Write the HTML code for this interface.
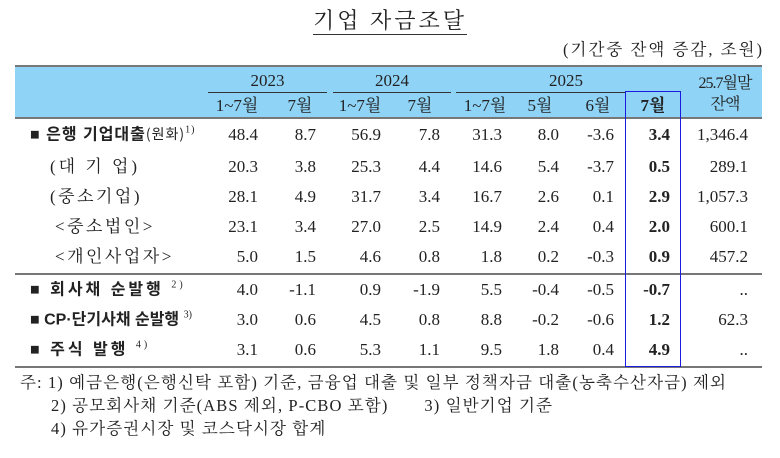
<!DOCTYPE html>
<html><head><meta charset="utf-8">
<style>
body{margin:0;background:#fff;width:780px;height:458px;position:relative;overflow:hidden;font-family:"Liberation Serif","Noto Serif CJK KR","Noto Serif CJK SC",serif;color:#222}
.a{position:absolute;white-space:nowrap;line-height:1}
.num{font-size:17px;text-align:right;width:80px}
.lbl{font-size:17px;letter-spacing:2.5px}
.b{font-family:"Liberation Sans","Noto Sans CJK KR",sans-serif;font-weight:bold;font-size:16px}
.hd{font-size:17px;text-align:center}
.ln{position:absolute;background:#777;height:1.5px}
sup{font-size:10px;font-family:"Liberation Serif",serif;font-weight:normal}
.fn{font-size:16.5px;letter-spacing:1.1px}
</style></head><body>
<div class="a" style="left:0;width:780px;text-align:center;top:10px;font-size:22px;"><span style="border-bottom:1.5px solid #333;padding-bottom:1px;letter-spacing:3px">기업 자금조달</span></div>
<div class="a" style="right:16px;top:42px;font-size:16.5px;letter-spacing:2px">(기간중 잔액 증감, 조원)</div>
<div style="position:absolute;left:15px;top:66px;width:747px;height:52px;background:#8fd3f6"></div>
<div class="ln" style="left:15px;top:65px;width:747px"></div>
<div class="ln" style="left:15px;top:117px;width:747px"></div>
<div class="ln" style="left:15px;top:273px;width:747px"></div>
<div class="ln" style="left:15px;top:366px;width:747px"></div>
<div class="ln" style="left:208px;top:92px;width:119px;height:1px;background:#333"></div>
<div class="ln" style="left:333px;top:92px;width:118px;height:1px;background:#333"></div>
<div class="ln" style="left:456px;top:92px;width:170px;height:1px;background:#333"></div>
<div class="a hd" style="left:208px;width:119px;top:72px">2023</div>
<div class="a hd" style="left:333px;width:118px;top:72px">2024</div>
<div class="a hd" style="left:456px;width:220px;top:72px">2025</div>
<div class="a hd" style="left:690px;width:70px;top:73px;font-size:16px;line-height:21px;letter-spacing:-1px">25.7월말<br>잔액</div>
<div style="position:absolute;left:625px;top:91px;width:54px;height:274px;border:1.5px solid #1a1ae0"></div>
<div id="t"></div>
<div class="a fn" style="left:20px;top:375px">주: 1) 예금은행(은행신탁 포함) 기준, 금융업 대출 및 일부 정책자금 대출(농축수산자금) 제외</div>
<div class="a fn" style="left:51px;top:398px">2) 공모회사채 기준(ABS 제외, P-CBO 포함)<span style="display:inline-block;width:36px"></span>3) 일반기업 기준</div>
<div class="a fn" style="left:51px;top:421px">4) 유가증권시장 및 코스닥시장 합계</div>
<script>
const columns=["1~7월","7월","1~7월","7월","1~7월","5월","6월","7월"];
const rowLabels=["■ 은행 기업대출","(대 기 업)","(중소기업)","<중소법인>","<개인사업자>","■ 회사채 순발행","■ CP·단기사채 순발행","■ 주식 발행"];
const rowSups=["(원화)1)","","","","","2)","3)","4)"];
const v2023a=["48.4","20.3","28.1","23.1","5.0","4.0","3.0","3.1"];
const v2023b=["8.7","3.8","4.9","3.4","1.5","-1.1","0.6","0.6"];
const v2024a=["56.9","25.3","31.7","27.0","4.6","0.9","4.5","5.3"];
const v2024b=["7.8","4.4","3.4","2.5","0.8","-1.9","0.8","1.1"];
const v2025a=["31.3","14.6","16.7","14.9","1.8","5.5","8.8","9.5"];
const v2025m5=["8.0","5.4","2.6","2.4","0.2","-0.4","-0.2","1.8"];
const v2025m6=["-3.6","-3.7","0.1","0.4","-0.3","-0.5","-0.6","0.4"];
const v2025m7=["3.4","0.5","2.9","2.0","0.9","-0.7","1.2","4.9"];
const balance=["1,346.4","289.1","1,057.3","600.1","457.2","..","62.3",".."];
const series=[v2023a,v2023b,v2024a,v2024b,v2025a,v2025m5,v2025m6,v2025m7,balance];
const colRight=[258,316,381,440,502,559,614,670,748];
const colCenter=[237,300,360,420,485,540,598,653];
const rowY=[135,167,197,227,257,290,320,350];
const bold=[true,false,false,false,false,true,true,true];
const indent=[30,50,50,55,55,30,30,30];
const spacing=["1px","3px","2.5px","2.5px","2.5px","3px","0px","3px"];
const t=document.getElementById('t');
function mk(cls,txt,l,top,name){const d=document.createElement('div');d.className='a '+cls;d.textContent=txt;d.style.left=l+'px';d.style.top=top+'px';


t.appendChild(d);return d;}
columns.forEach((c,i)=>{const d=mk('hd',c,colCenter[i]-35,97,'col-header-'+i);d.style.width='70px';if(i==7)d.style.fontWeight='bold';});
rowLabels.forEach((r,i)=>{
 const d=mk(bold[i]?'b':'lbl','',indent[i],rowY[i]-9,'row-label-'+i);
 d.textContent=r;
 d.style.letterSpacing=spacing[i];
 if(rowSups[i]){const s=document.createElement('span');
 if(i==0){s.innerHTML='<span style="font-weight:normal;font-family:\'Noto Sans CJK KR\',sans-serif;font-size:14px">(원화)</span><sup>1)</sup>';}else{s.innerHTML=' <sup>'+rowSups[i]+'</sup>';}
 d.appendChild(s);}
});
series.forEach((s,ci)=>{s.forEach((v,ri)=>{const d=mk('num',v,colRight[ci]-80,rowY[ri]-9,'cell-r'+ri+'-c'+ci);if(ci==7)d.style.fontWeight='bold';});});
</script>
</body></html>
